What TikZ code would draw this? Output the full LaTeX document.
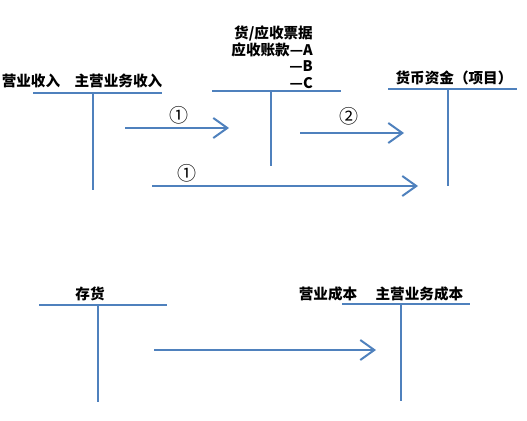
\documentclass[tikz,border=0pt]{standalone}
\usepackage{fontspec}
\newfontfamily\cjk{Noto Sans CJK SC}
\usepackage{tikz}
\usetikzlibrary{positioning,arrows.meta}
\usepackage{xcolor}
\definecolor{tblue}{RGB}{79,129,189}

\begin{document}
\begin{tikzpicture}[x=1pt,y=-1pt,
  tline/.style={draw=tblue,line width=2pt},
  flow/.style={draw=tblue,line width=2pt,-{Straight Barb[length=14pt,width=20pt,line width=2pt]}},
  lbl/.style={font=\cjk\bfseries\fontsize{14.6}{16.5}\selectfont,inner sep=0pt},
  num/.style={font=\cjk\fontsize{19}{19}\selectfont,inner sep=0pt}]
  \useasboundingbox (0,0) rectangle (527,420);

  % revenue account
  \node[lbl] (inc1) at (31,81) {营业收入};
  \node[lbl,right=14pt of inc1] (inc2) {主营业务收入};
  \coordinate (incL) at (33,93);
  \coordinate (incR) at (162,93);
  \coordinate (incT) at (93,93);
  \coordinate (incB) at (93,190);
  \draw[tline] (incL) -- (incR);
  \draw[tline] (incT) -- (incB);

  % receivables account
  \node[lbl,align=right,anchor=north east] (rec) at (313,26)
    {货/应收票据\\应收账款—A\\—B\\—C};
  \coordinate (recL) at (212,91);
  \coordinate (recR) at (341,91);
  \coordinate (recT) at (271,91);
  \coordinate (recB) at (271,166);
  \draw[tline] (recL) -- (recR);
  \draw[tline] (recT) -- (recB);

  % cash account
  \node[lbl] (cash) at (454,78) {货币资金（项目）};
  \coordinate (cashL) at (388,89);
  \coordinate (cashR) at (517,89);
  \coordinate (cashT) at (448,89);
  \coordinate (cashB) at (448,186);
  \draw[tline] (cashL) -- (cashR);
  \draw[tline] (cashT) -- (cashB);

  % inventory account
  \node[lbl] (inv) at (90,294) {存货};
  \coordinate (invL) at (39,305);
  \coordinate (invR) at (167,305);
  \coordinate (invT) at (98,305);
  \coordinate (invB) at (98,402);
  \draw[tline] (invL) -- (invR);
  \draw[tline] (invT) -- (invB);

  % cost account
  \node[lbl] (cost1) at (328,294) {营业成本};
  \node[lbl,right=18pt of cost1] (cost2) {主营业务成本};
  \coordinate (costL) at (342,304);
  \coordinate (costR) at (470,304);
  \coordinate (costT) at (401,304);
  \coordinate (costB) at (401,401);
  \draw[tline] (costL) -- (costR);
  \draw[tline] (costT) -- (costB);

  % flows
  \coordinate (f1s) at (125,128);
  \coordinate (f1e) at (229,128);
  \draw[flow] (f1s) -- (f1e);
  \node[num] (n1) at (179,115) {①};

  \coordinate (f2s) at (300,133);
  \coordinate (f2e) at (404,133);
  \draw[flow] (f2s) -- (f2e);
  \node[num] (n2) at (349,116) {②};

  \coordinate (f3s) at (152,186);
  \coordinate (f3e) at (418,186);
  \draw[flow] (f3s) -- (f3e);
  \node[num] (n3) at (187,173) {①};

  \coordinate (f4s) at (154,350);
  \coordinate (f4e) at (376,350);
  \draw[flow] (f4s) -- (f4e);
\end{tikzpicture}
\end{document}
